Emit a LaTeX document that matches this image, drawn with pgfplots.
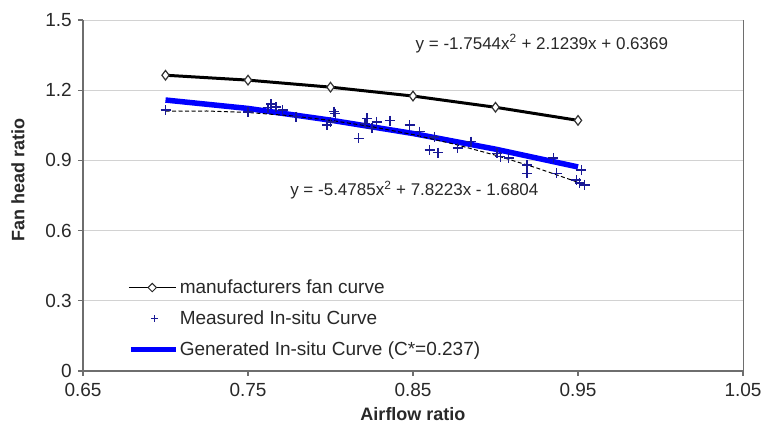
\documentclass[border=0pt]{standalone}
\usepackage{pgfplots}
\pgfplotsset{compat=1.18}
\usepackage{fontspec}
\setmainfont{Liberation Sans}

\definecolor{gridgray}{RGB}{210,210,210}
\definecolor{axisgray}{RGB}{110,110,110}
\definecolor{meas}{RGB}{25,25,150}
\definecolor{labelgray}{RGB}{40,40,40}

% manufacturer's fan curve
\pgfplotstableread{
x     y
0.70  1.264
0.75  1.243
0.80  1.213
0.85  1.175
0.90  1.127
0.95  1.071
}\manuf

% generated in-situ curve
\pgfplotstableread{
x     y
0.70  1.158
0.75  1.122
0.80  1.072
0.85  1.015
0.90  0.948
0.95  0.872
}\gener

% quadratic trendline of the measured points
\pgfplotstableread{
x      y
0.700  1.1107
0.725  1.1111
0.750  1.1047
0.775  1.0914
0.800  1.0712
0.825  1.0442
0.850  1.0103
0.875  0.9696
0.900  0.9221
0.925  0.8677
0.950  0.8065
0.955  0.7934
}\trend

% measured in-situ points
\pgfplotstableread{
x      y
0.700  1.115
0.750  1.107
0.762  1.125
0.764  1.140
0.767  1.128
0.771  1.115
0.779  1.087
0.798  1.051
0.800  1.065
0.802  1.108
0.803  1.100
0.817  0.994
0.821  1.058
0.822  1.080
0.825  1.037
0.828  1.065
0.836  1.070
0.848  1.051
0.854  1.023
0.860  0.944
0.863  1.001
0.865  0.933
0.877  0.952
0.885  0.980
0.901  0.930
0.903  0.916
0.908  0.910
0.919  0.880
0.919  0.845
0.935  0.910
0.937  0.845
0.949  0.816
0.951  0.803
0.952  0.859
0.954  0.795
}\meas

\begin{document}
\begin{tikzpicture}
\path[use as bounding box] (0,0) rectangle (763bp,441bp);
\begin{axis}[
  at={(83bp,70bp)}, anchor=south west,
  scale only axis, width=660bp, height=351bp,
  xmin=0.65, xmax=1.05, ymin=0, ymax=1.5,
  xtick={0.65,0.75,0.85,0.95,1.05},
  xticklabels={0.65,0.75,0.85,0.95,1.05},
  ytick={0,0.3,0.6,0.9,1.2,1.5},
  yticklabels={0,0.3,0.6,0.9,1.2,1.5},
  ymajorgrids, grid style={gridgray, line width=0.9bp},
  axis x line*=bottom, axis y line*=left,
  axis line style={axisgray, line width=1.1bp, -},
  tick style={axisgray, line width=1.1bp},
  tick align=outside, major tick length=5bp,
  ticklabel style={font=\fontsize{19bp}{21bp}\selectfont, text=labelgray},
  xticklabel style={anchor=north, inner sep=0pt, yshift=-7bp},
  yticklabel style={anchor=east, inner sep=0pt, xshift=-6bp},
  legend style={at={(axis cs:0.6755,0.405)}, anchor=north west, draw=none, fill=none,
    font=\fontsize{19bp}{21bp}\selectfont, text=labelgray,
    row sep=12.5bp, nodes={inner sep=1.5bp}},
  legend cell align=left,
  clip=false,
]
% right frame line of the plot area
\draw[axisgray, line width=0.8bp] (rel axis cs:1,0) -- (rel axis cs:1,1);

\addplot[black, line width=3bp, mark=diamond*, mark size=4.8bp,
  mark options={fill=white, draw=black!80, line width=1.2bp}, forget plot] table {\manuf};
\addplot[blue, line width=5.5bp, forget plot] table {\gener};
\addplot[black, line width=1bp, dash pattern=on 4bp off 2.5bp, forget plot] table {\trend};
\addplot[only marks, mark=+, mark size=5bp, meas, line width=1.5bp, forget plot] table {\meas};

\addlegendimage{legend image code/.code={
  \draw[black, line width=0.8bp] (0bp,0bp) -- (47bp,0bp);
  \draw[black!85, fill=white, line width=1bp] (23.5bp,4.2bp) -- (27.7bp,0bp) -- (23.5bp,-4.2bp) -- (19.3bp,0bp) -- cycle;}}
\addlegendentry{manufacturers fan curve}
\addlegendimage{legend image code/.code={
  \draw[meas, line width=1.1bp] (26bp,-3.5bp) -- (26bp,3.5bp) (22.5bp,0bp) -- (29.5bp,0bp);}}
\addlegendentry{Measured In-situ Curve}
\addlegendimage{legend image code/.code={
  \draw[blue, line width=5bp] (2bp,0bp) -- (47bp,0bp);}}
\addlegendentry{Generated In-situ Curve (C*=0.237)}

\node[anchor=west, font=\fontsize{17bp}{19bp}\selectfont, text=labelgray, inner sep=0pt]
  at (axis cs:0.8515,1.399) {y = -1.7544x\textsuperscript{2} + 2.1239x + 0.6369};
\node[anchor=west, font=\fontsize{17bp}{19bp}\selectfont, text=labelgray, inner sep=0pt]
  at (axis cs:0.7755,0.773) {y = -5.4785x\textsuperscript{2} + 7.8223x - 1.6804};

\node[rotate=90, font=\bfseries\fontsize{18bp}{20bp}\selectfont, text=labelgray]
  at (axis description cs:-0.0985,0.544) {Fan head ratio};
\node[font=\bfseries\fontsize{18bp}{20bp}\selectfont, text=labelgray]
  at (axis description cs:0.5,-0.122) {Airflow ratio};
\end{axis}
\end{tikzpicture}
\end{document}
